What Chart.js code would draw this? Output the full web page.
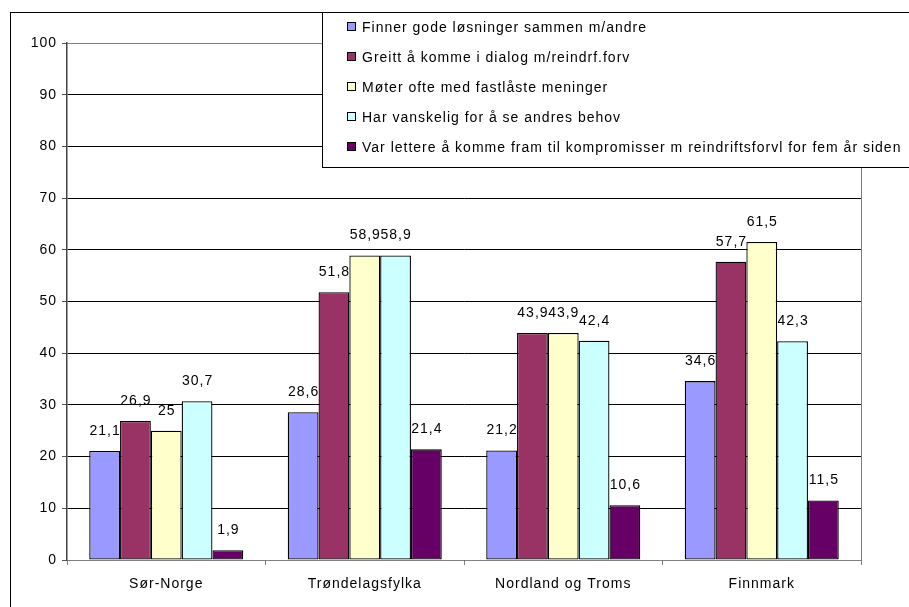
<!DOCTYPE html>
<html>
<head>
<meta charset="utf-8">
<script src="https://cdn.jsdelivr.net/npm/chart.js@4/dist/chart.umd.min.js"></script>
<style>
  html, body { margin: 0; padding: 0; background: #fff; }
</style>
</head>
<body>
<canvas id="chart" width="909" height="607"></canvas>
<script>
const categories = ['Sør-Norge', 'Trøndelagsfylka', 'Nordland og Troms', 'Finnmark'];
const finnerGode = [21.1, 28.6, 21.2, 34.6];
const greittDialog = [26.9, 51.8, 43.9, 57.7];
const moterFastlaste = [25, 58.9, 43.9, 61.5];
const vanskeligBehov = [30.7, 58.9, 42.4, 42.3];
const lettereFemAar = [1.9, 21.4, 10.6, 11.5];
const seriesLabels = [
  'Finner gode løsninger sammen m/andre',
  'Greitt å komme i dialog m/reindrf.forv',
  'Møter ofte med fastlåste meninger',
  'Har vanskelig for å se andres behov',
  'Var lettere å komme fram til kompromisser m reindriftsforvl for fem år siden',
];
const seriesColors = ['#9999ff', '#993366', '#ffffcc', '#ccffff', '#660066'];
const yMin = 0;
const yMax = 100;
const yStep = 10;

const FONT = '"Liberation Sans", Arial, sans-serif';
const SIZE = 14;
const SPACING = '1px'; // old GDI text runs wide
const fmt = (v) => String(v).replace('.', ',');

// outer frame + white background
const framePlugin = {
  id: 'frame',
  beforeDraw(chart) {
    const { ctx } = chart;
    ctx.letterSpacing = SPACING;
    ctx.save();
    ctx.fillStyle = '#fff';
    ctx.fillRect(0, 0, chart.width, chart.height);
    ctx.strokeStyle = '#000';
    ctx.lineWidth = 1;
    ctx.strokeRect(10.5, 12.5, 1000, 1000);
    ctx.restore();
  },
};

// plot area border (top/right) and value labels
const labelPlugin = {
  id: 'valueLabels',
  afterDatasetsDraw(chart) {
    const { ctx, chartArea: a } = chart;
    ctx.save();
    ctx.strokeStyle = '#808080';
    ctx.lineWidth = 1;
    ctx.beginPath();
    ctx.moveTo(a.left, Math.round(a.top) + 0.5);
    ctx.lineTo(Math.round(a.right) + 0.5, Math.round(a.top) + 0.5);
    ctx.lineTo(Math.round(a.right) + 0.5, Math.round(a.bottom) + 5);
    ctx.stroke();

    ctx.fillStyle = '#000';
    ctx.font = SIZE + 'px ' + FONT;
    ctx.letterSpacing = SPACING;
    ctx.textAlign = 'center';
    ctx.textBaseline = 'middle';
    chart.data.datasets.forEach((ds, i) => {
      chart.getDatasetMeta(i).data.forEach((bar, j) => {
        ctx.fillText(fmt(ds.data[j]), bar.x + 0.5, bar.y - 20);
      });
    });
    ctx.restore();
  },
};

// boxed legend overlapping the top right of the plot
const legendPlugin = {
  id: 'boxLegend',
  afterDraw(chart) {
    const { ctx } = chart;
    ctx.save();
    ctx.fillStyle = '#fff';
    ctx.fillRect(322.5, 12.5, 700, 155);
    ctx.strokeStyle = '#000';
    ctx.lineWidth = 1;
    ctx.strokeRect(322.5, 12.5, 700, 155);
    ctx.font = SIZE + 'px ' + FONT;
    ctx.letterSpacing = SPACING;
    ctx.textBaseline = 'middle';
    ctx.textAlign = 'left';
    chart.data.datasets.forEach((ds, i) => {
      const y = 27 + i * 30;
      ctx.fillStyle = ds.backgroundColor;
      ctx.fillRect(347.5, y - 4.5, 8, 8);
      ctx.strokeRect(347.5, y - 4.5, 8, 8);
      ctx.fillStyle = '#000';
      ctx.fillText(ds.label, 362, y + 1);
    });
    ctx.restore();
  },
};

const seriesData = [finnerGode, greittDialog, moterFastlaste, vanskeligBehov, lettereFemAar];

new Chart(document.getElementById('chart'), {
  type: 'bar',
  data: {
    labels: categories,
    datasets: seriesData.map((d, i) => ({
      label: seriesLabels[i],
      data: d,
      backgroundColor: seriesColors[i],
      borderColor: '#000',
      borderWidth: 1.3,
      borderSkipped: false,
      categoryPercentage: 0.776,
      barPercentage: 1,
    })),
  },
  options: {
    responsive: false,
    animation: false,
    layout: { padding: { top: 43, right: 48, left: 0, bottom: 0 } },
    plugins: {
      legend: { display: false },
      tooltip: { enabled: false },
    },
    scales: {
      x: {
        grid: { drawOnChartArea: false, offset: true, tickLength: 5, color: '#808080' },
        border: { color: '#808080', width: 1 },
        ticks: { color: '#000', font: { family: FONT, size: SIZE }, padding: 11 },
        afterFit: (s) => { s.height = 47; },
      },
      y: {
        min: yMin,
        max: yMax,
        ticks: { stepSize: yStep, color: '#000', font: { family: FONT, size: SIZE }, padding: 5 },
        grid: { color: '#000', lineWidth: 1, tickLength: 5, tickColor: '#555' },
        border: { color: '#444', width: 1.5 },
        afterFit: (s) => { s.width = 67; },
      },
    },
  },
  plugins: [framePlugin, labelPlugin, legendPlugin],
});
</script>
</body>
</html>
